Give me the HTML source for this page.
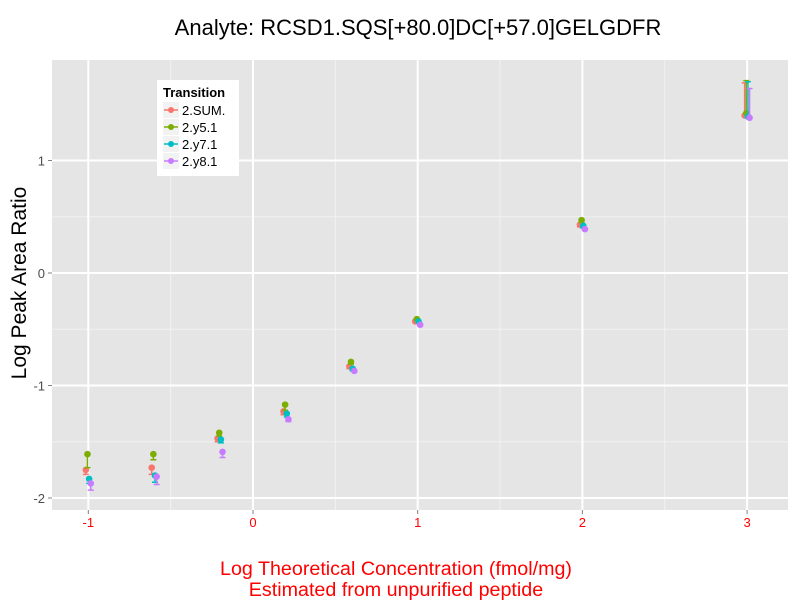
<!DOCTYPE html>
<html><head><meta charset="utf-8"><style>
body{margin:0;background:#fff;}
svg text{font-family:"Liberation Sans",sans-serif;}
</style></head><body>
<svg id="chart" width="800" height="600" xmlns="http://www.w3.org/2000/svg">
<rect x="0" y="0" width="800" height="600" fill="#fff"/>
<rect x="52" y="60" width="736" height="450" fill="#e5e5e5"/>
<g id="grid"></g>
<g id="marks"></g>
<g id="axes"></g>
<text x="418" y="35" font-size="22" text-anchor="middle" fill="#000">Analyte: RCSD1.SQS[+80.0]DC[+57.0]GELGDFR</text>
<text transform="translate(26,283) rotate(-90)" font-size="21" text-anchor="middle" fill="#000">Log Peak Area Ratio</text>
<text x="396" y="575" font-size="19.7" text-anchor="middle" fill="#ff0000">Log Theoretical Concentration (fmol/mg)</text>
<text x="396" y="596" font-size="19.7" text-anchor="middle" fill="#ff0000">Estimated from unpurified peptide</text>
<g>
<rect x="157" y="80" width="82" height="96" fill="#fff"/>
<text x="163" y="97" font-size="13" font-weight="bold" fill="#000">Transition</text>
<g id="legend-items"></g>
</g>
</svg>
<script>
const xCats=[-1,-0.6,-0.2,0.2,0.6,1,2,3];
const seriesNames=["2.SUM.","2.y5.1","2.y7.1","2.y8.1"];
const seriesColors=["#f8766d","#7cae00","#00bfc4","#c77cff"];
const sumVals=[-1.75,-1.73,-1.47,-1.23,-0.83,-0.43,0.43,1.40];
const y5Vals=[-1.61,-1.61,-1.42,-1.17,-0.79,-0.41,0.47,1.42];
const y7Vals=[-1.83,-1.80,-1.48,-1.25,-0.85,-0.43,0.42,1.39];
const y8Vals=[-1.87,-1.81,-1.59,-1.30,-0.87,-0.46,0.39,1.38];
const sumErr=[0.04,0.06,0.03,0.03,0.02,0.01,0.02,0.29];
const y5Err=[0.12,0.05,0.03,0.05,0.02,0.01,0.02,0.29];
const y7Err=[0.04,0.06,0.03,0.03,0.02,0.01,0.02,0.31];
const y8Err=[0.06,0.07,0.05,0.02,0.01,0.01,0.01,0.26];
const xTicks=[-1,0,1,2,3];
const yTicks=[-2,-1,0,1];
const allVals=[sumVals,y5Vals,y7Vals,y8Vals];
const allErr=[sumErr,y5Err,y7Err,y8Err];
const NS="http://www.w3.org/2000/svg";
function X(v){return 253+(v)*164.7;}
function Y(v){return 273-v*112.5;}
function mk(tag,attrs,parent){const e=document.createElementNS(NS,tag);for(const k in attrs)e.setAttribute(k,attrs[k]);parent.appendChild(e);return e;}
const grid=document.getElementById('grid'),marks=document.getElementById('marks'),axes=document.getElementById('axes');
for(let i=0;i<xTicks.length-1;i++){const l=mk('line',{x1:X(xTicks[i]+0.5),x2:X(xTicks[i]+0.5),y1:60,y2:510,stroke:'#f2f2f2','stroke-width':1},grid);

}
for(let i=0;i<yTicks.length-1;i++){const l=mk('line',{x1:52,x2:788,y1:Y(yTicks[i]+0.5),y2:Y(yTicks[i]+0.5),stroke:'#f2f2f2','stroke-width':1},grid);

}
xTicks.forEach(t=>{const l=mk('line',{x1:X(t),x2:X(t),y1:60,y2:510,stroke:'#fff','stroke-width':2},grid);


const tk=mk('line',{x1:X(t),x2:X(t),y1:510,y2:514,stroke:'#7f7f7f','stroke-width':1},axes);


const tx=mk('text',{x:X(t),y:527,'font-size':13,'text-anchor':'middle',fill:'#ff0000'},axes);tx.textContent=t;

});
yTicks.forEach(t=>{const l=mk('line',{x1:52,x2:788,y1:Y(t),y2:Y(t),stroke:'#fff','stroke-width':2},grid);


const tk=mk('line',{x1:48,x2:52,y1:Y(t),y2:Y(t),stroke:'#7f7f7f','stroke-width':1},axes);


const tx=mk('text',{x:45,y:Y(t)+5,'font-size':13,'text-anchor':'end',fill:'#4d4d4d'},axes);tx.textContent=t;

});
const dodge=[-0.015,-0.005,0.005,0.015];
allVals.forEach((vals,s)=>{vals.forEach((v,i)=>{
const cx=X(xCats[i]+dodge[s]);const e=allErr[s][i];const c=seriesColors[s];
const up=(i===7);
const ya=Y(v), yb=up?Y(v+e):Y(v-e);
const eb=mk('line',{x1:cx,x2:cx,y1:ya,y2:yb,stroke:c,'stroke-width':1.5},marks);


const cap=mk('line',{x1:cx-3,x2:cx+3,y1:yb,y2:yb,stroke:c,'stroke-width':1.5},marks);


const p=mk('circle',{cx:cx,cy:ya,r:3.3,fill:c},marks);

});});
const li=document.getElementById('legend-items');
seriesNames.forEach((n,s)=>{const y=110+s*17;
const g=mk('g',{},li);


mk('rect',{x:163,y:y-8,width:16,height:16,fill:'#f2f2f2'},g);
mk('line',{x1:164,x2:178,y1:y,y2:y,stroke:seriesColors[s],'stroke-width':1.5},g);
mk('circle',{cx:171,cy:y,r:3,fill:seriesColors[s]},g);
const t=mk('text',{x:182,y:y+5,'font-size':13,fill:'#000'},g);t.textContent=n;});
</script>
</body></html>
